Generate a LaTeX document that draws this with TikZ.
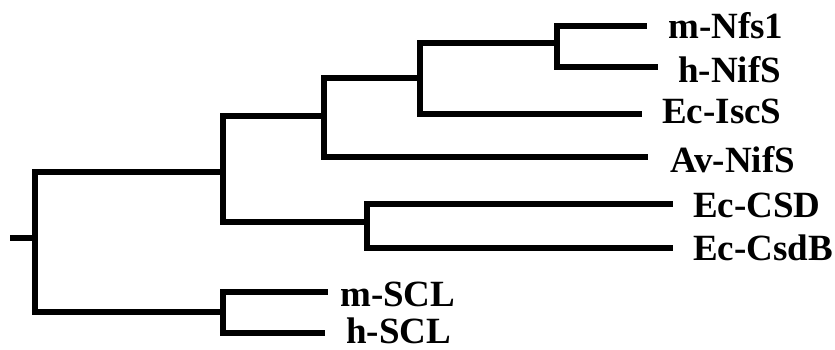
\documentclass[tikz,border=0pt]{standalone}
\usepackage{fontspec}
\setmainfont{Liberation Serif}
\begin{document}
\begin{tikzpicture}[x=1pt,y=-1pt,
  branch/.style={line width=6pt,line cap=butt,line join=miter},
  taxon/.style={anchor=base west,inner sep=0pt,font=\fontsize{37}{40}\selectfont\bfseries}]
\useasboundingbox (0,0) rectangle (835,349);
% internal nodes of the tree
\coordinate (stub) at (10,238);
\coordinate (root) at (35,238);
\coordinate (cysA) at (222.5,172);
\coordinate (sclA) at (222.5,312);
\coordinate (nifA) at (324,116);
\coordinate (csdA) at (367,222);
\coordinate (nfsA) at (420,78);
\coordinate (eukA) at (557,43);
% branch tips
\coordinate (tNfs) at (647,26);
\coordinate (tNifSh) at (658,67);
\coordinate (tIscS) at (642,114);
\coordinate (tNifSa) at (648,157);
\coordinate (tCSD) at (673,204);
\coordinate (tCsdB) at (673,248);
\coordinate (tSCLm) at (328,292);
\coordinate (tSCLh) at (325,333);
% labels
\node[taxon] (lNfs)   at (668,38)  {m-Nfs1};
\node[taxon] (lNifSh) at (678,82)  {h-NifS};
\node[taxon] (lIscS)  at (662,123) {Ec-IscS};
\node[taxon] (lNifSa) at (670,172) {Av-NifS};
\node[taxon] (lCSD)   at (693,217) {Ec-CSD};
\node[taxon] (lCsdB)  at (693,260) {Ec-CsdB};
\node[taxon] (lSCLm)  at (340,306) {m-SCL};
\node[taxon] (lSCLh)  at (346,343) {h-SCL};
% branches
\draw[branch] (stub) -- (root);
\draw[branch] (root) |- (cysA);
\draw[branch] (root) |- (sclA);
\draw[branch] (cysA) |- (nifA);
\draw[branch] (cysA) |- (csdA);
\draw[branch] (nifA) |- (nfsA);
\draw[branch] (nifA) |- (tNifSa);
\draw[branch] (nfsA) |- (eukA);
\draw[branch] (nfsA) |- (tIscS);
\draw[branch] (eukA) |- (tNfs);
\draw[branch] (eukA) |- (tNifSh);
\draw[branch] (csdA) |- (tCSD);
\draw[branch] (csdA) |- (tCsdB);
\draw[branch] (sclA) |- (tSCLm);
\draw[branch] (sclA) |- (tSCLh);
\end{tikzpicture}
\end{document}
